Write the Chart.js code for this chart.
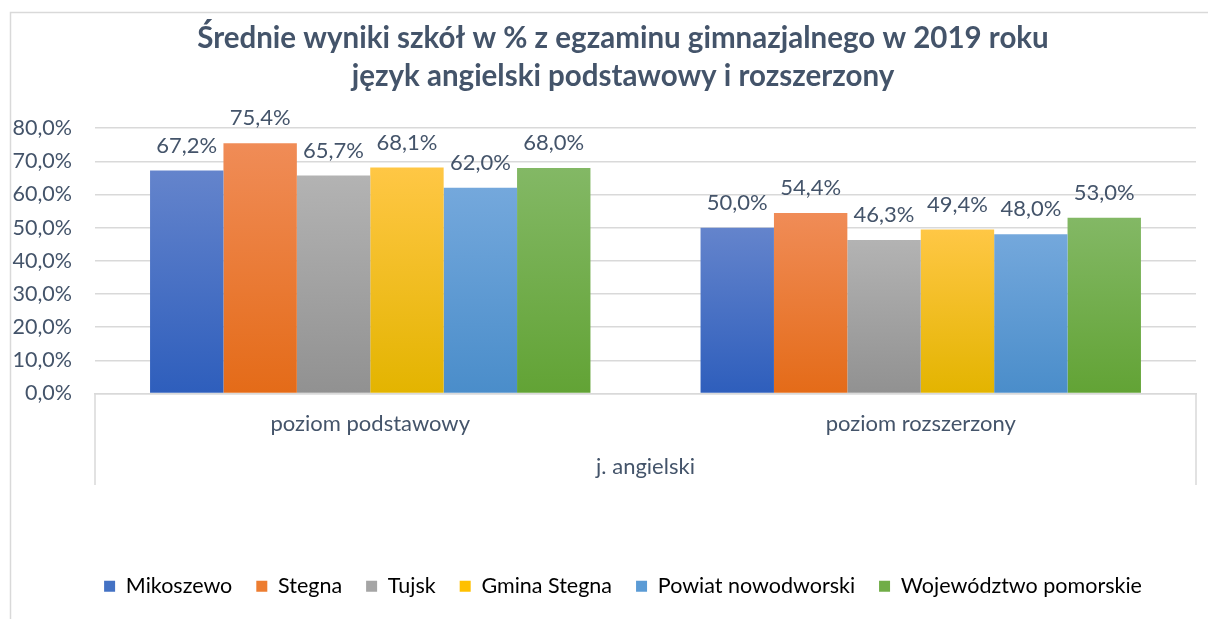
<!DOCTYPE html>
<html>
<head>
<meta charset="utf-8">
<script src="https://cdn.jsdelivr.net/npm/chart.js@4.4.1/dist/chart.umd.min.js"></script>
<style>
  html, body { margin: 0; padding: 0; background: #fff; overflow: hidden; }
  #wrap { width: 1246px; height: 619px; position: relative; }
</style>
</head>
<body>
<div id="wrap"><canvas id="chart"></canvas></div>
<script>
// data
const categories = ["poziom podstawowy", "poziom rozszerzony"];
const groupLabel = "j. angielski";
const seriesNames = ["Mikoszewo", "Stegna", "Tujsk", "Gmina Stegna", "Powiat nowodworski", "Województwo pomorskie"];
const mikoszewo = [67.2, 50.0];
const stegna = [75.4, 54.4];
const tujsk = [65.7, 46.3];
const gminaStegna = [68.1, 49.4];
const powiat = [62.0, 48.0];
const wojewodztwo = [68.0, 53.0];
const yTicks = [0, 10, 20, 30, 40, 50, 60, 70, 80];

// top / bottom / legend colour per series
const palette = [
  ["#6484cc", "#2e5ebc", "#4472c4"],
  ["#f08c57", "#e46b18", "#ed7d31"],
  ["#b3b3b3", "#919191", "#a5a5a5"],
  ["#ffc745", "#e3b400", "#ffc000"],
  ["#74a8dc", "#4a8dca", "#5b9bd5"],
  ["#83b865", "#62a335", "#70ad47"]
];

const textColor = "#44546a";
const fontFamily = "Lato, 'Open Sans', sans-serif";
const fmt = v => v.toFixed(1).replace(".", ",") + "%";

function gradientFill(i) {
  return function (ctx) {
    const chart = ctx.chart;
    const y = chart.scales.y;
    if (!y || ctx.parsed == null) return palette[i][2];
    const top = y.getPixelForValue(ctx.parsed.y);
    const bottom = y.getPixelForValue(0);
    if (!isFinite(top) || !isFinite(bottom) || top === bottom) return palette[i][2];
    const g = chart.ctx.createLinearGradient(0, top, 0, bottom);
    g.addColorStop(0, palette[i][0]);
    g.addColorStop(1, palette[i][1]);
    return g;
  };
}

const values = [mikoszewo, stegna, tujsk, gminaStegna, powiat, wojewodztwo];
const datasets = seriesNames.map((name, i) => ({
  label: name,
  data: values[i],
  backgroundColor: gradientFill(i),
  borderWidth: 0,
  categoryPercentage: 0.8,
  barPercentage: 1.0
}));

// frame round the whole chart
const framePlugin = {
  id: "frame",
  beforeDraw(chart) {
    const c = chart.ctx;
    c.save();
    c.fillStyle = "#fff";
    c.fillRect(0, 0, chart.width, chart.height);
    c.strokeStyle = "#d9d9d9";
    c.lineWidth = 1.5;
    c.strokeRect(10.5, 12.5, chart.width + 20, chart.height + 20);
    c.restore();
  }
};

// multi level category axis: outer lines + group label
const groupAxisPlugin = {
  id: "groupAxis",
  afterDraw(chart) {
    const c = chart.ctx;
    const a = chart.chartArea;
    c.save();
    c.strokeStyle = "#d9d9d9";
    c.lineWidth = 1.5;
    [a.left, a.right].forEach(x => {
      c.beginPath();
      c.moveTo(x, a.bottom);
      c.lineTo(x, 485);
      c.stroke();
    });
    c.fillStyle = textColor;
    c.font = "22px " + fontFamily;
    c.textAlign = "center";
    c.textBaseline = "middle";
    c.fillText(groupLabel, (a.left + a.right) / 2, 467);
    c.restore();
  }
};

// value labels above bars
const valueLabels = {
  id: "valueLabels",
  afterDatasetsDraw(chart) {
    const c = chart.ctx;
    c.save();
    c.fillStyle = textColor;
    c.font = "22px " + fontFamily;
    c.textAlign = "center";
    c.textBaseline = "middle";
    chart.data.datasets.forEach((ds, i) => {
      chart.getDatasetMeta(i).data.forEach((bar, j) => {
        c.fillText(fmt(ds.data[j]), bar.x, bar.y - 25);
      });
    });
    c.restore();
  }
};

new Chart(document.getElementById("chart"), {
  type: "bar",
  data: { labels: categories, datasets: datasets },
  options: {
    responsive: true,
    maintainAspectRatio: false,
    animation: false,
    layout: { padding: { left: 0, right: 0, top: 0, bottom: 12 } },
    plugins: {
      title: {
        display: true,
        text: ["Średnie wyniki szkół w % z egzaminu gimnazjalnego w 2019 roku", "język angielski podstawowy i rozszerzony"],
        color: textColor,
        font: { family: fontFamily, size: 29.5, weight: "bold", lineHeight: 1.29 },
        padding: { top: 19, bottom: 33 }
      },
      legend: {
        position: "bottom",
        labels: {
          color: textColor,
          font: { family: fontFamily, size: 21.5 },
          boxWidth: 11,
          boxHeight: 11,
          padding: 24,
          generateLabels(chart) {
            return chart.data.datasets.map((ds, i) => ({
              text: ds.label,
              fillStyle: palette[i][2],
              strokeStyle: palette[i][2],
              lineWidth: 0,
              datasetIndex: i
            }));
          }
        }
      },
      tooltip: { enabled: false }
    },
    scales: {
      x: {
        grid: { display: false, drawTicks: false },
        border: { display: true, color: "#d9d9d9", width: 1.5 },
        ticks: { color: textColor, font: { family: fontFamily, size: 22 }, padding: 17, maxRotation: 0 },
        afterFit(scale) { scale.height = 158; }
      },
      y: {
        min: 0,
        max: 80,
        afterBuildTicks(scale) { scale.ticks = yTicks.map(v => ({ value: v })); },
        grid: { color: "#d9d9d9", lineWidth: 1.5, drawTicks: false },
        border: { display: false },
        ticks: {
          color: textColor,
          font: { family: fontFamily, size: 21.5 },
          padding: 23,
          callback: v => fmt(v)
        },
        afterFit(scale) { scale.width = 95; }
      },
      // empty right-hand axis: keeps the plot where the reference has it
      yRight: {
        position: "right",
        display: true,
        min: 0,
        max: 80,
        grid: { display: false, drawTicks: false },
        border: { display: false },
        ticks: { display: false },
        afterFit(scale) { scale.width = 50; }
      }
    }
  },
  plugins: [framePlugin, groupAxisPlugin, valueLabels]
});
</script>
</body>
</html>
